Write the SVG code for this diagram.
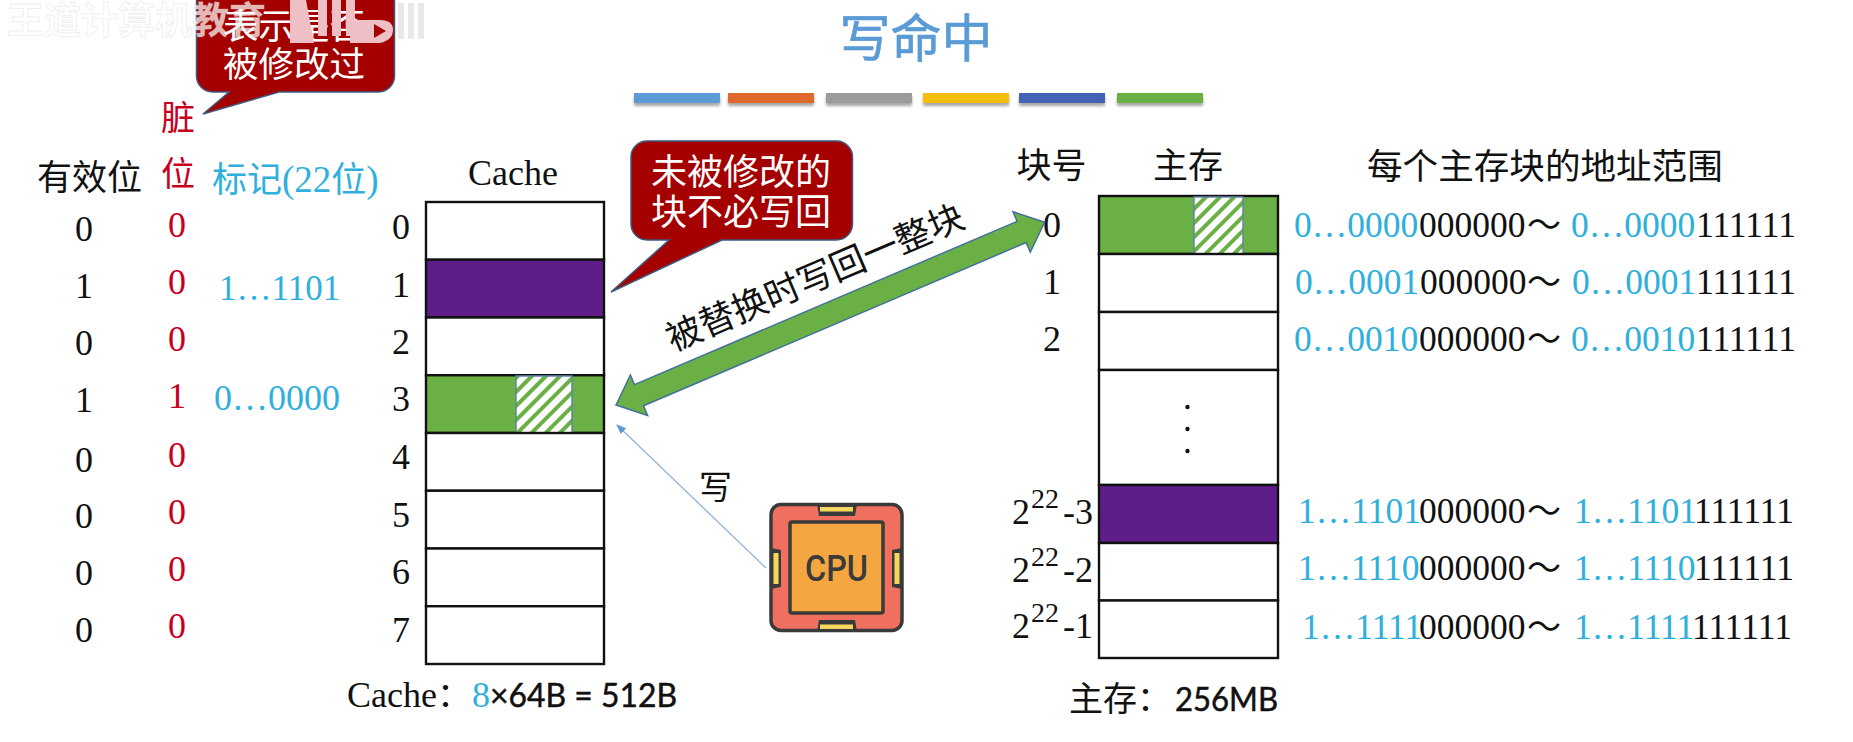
<svg xmlns="http://www.w3.org/2000/svg" width="1853" height="742" viewBox="0 0 1853 742">
<style>
text{font-family:"Liberation Serif","Noto Sans CJK SC",serif;font-size:36px;fill:#111}
.cjk{font-family:"Noto Sans CJK SC",sans-serif;font-size:34px}
.wh{fill:#fff;font-size:35.500px;text-anchor:middle;font-family:"Noto Sans CJK SC",sans-serif}
.sans{font-family:Lato,"Liberation Sans",sans-serif;font-size:33px;stroke:#111;stroke-width:.5}
.c{text-anchor:middle}
.red{fill:#c8001e}
.blue{fill:#2fb0dc}
.rn{font-size:35.5px}
.cell{fill:#fff;stroke:#111;stroke-width:2.4}
.pur{fill:#5f1d8a}
.grn{fill:#6bb044}
.hatch{fill:url(#h);stroke:#5f86a8;stroke-width:1.5}
.call{fill:#a50000;stroke:#3d5a80;stroke-width:1.5}
.ln{fill:#3a3a3a}
.pin{fill:#f5d75e}
</style>
<defs>
<pattern id="h" width="10" height="10" patternUnits="userSpaceOnUse" patternTransform="rotate(45)">
<rect width="10" height="10" fill="#fff"/><rect width="4" height="10" fill="#6bb044"/>
</pattern>
<filter id="sh" x="-10%" y="-40%" width="120%" height="200%"><feDropShadow dx="0" dy="3" stdDeviation="1.5" flood-color="#000" flood-opacity=".35"/></filter>
<marker id="ta" markerWidth="10" markerHeight="10" refX="9" refY="4" orient="auto" markerUnits="userSpaceOnUse" viewBox="0 0 10 8"><path d="M0 0L10 4L0 8z" fill="#5b9bd5"/></marker>
</defs>
<rect width="1853" height="742" fill="#fff"/>

<g id="title"><text x="916" y="57" class="c" style="font-family:'Noto Sans CJK SC',sans-serif;font-size:51px;fill:#5b9bd5;stroke:#5b9bd5;stroke-width:.7">写命中</text></g>
<g id="divider" filter="url(#sh)">
<rect x="634" y="93" width="86" height="10" fill="#5b9bd5"/>
<rect x="728" y="93" width="86" height="10" fill="#e0692f"/>
<rect x="826" y="93" width="86" height="10" fill="#9b9b9b"/>
<rect x="923" y="93" width="86" height="10" fill="#f5be10"/>
<rect x="1019" y="93" width="86" height="10" fill="#4264b4"/>
<rect x="1117" y="93" width="86" height="10" fill="#6bb044"/>
</g>

<g id="valid-column">
<text x="37" y="190" class="cjk" style="font-size:35px">有效位</text>
<text x="84" y="241" class="c">0</text><text x="84" y="298" class="c">1</text><text x="84" y="355" class="c">0</text><text x="84" y="412" class="c">1</text><text x="84" y="472" class="c">0</text><text x="84" y="528" class="c">0</text><text x="84" y="585" class="c">0</text><text x="84" y="642" class="c">0</text>
</g>
<g id="dirty-column">
<text x="178" y="130" class="cjk c red">脏</text><text x="178" y="186" class="cjk c red">位</text>
<g class="red"><text x="177" y="237" class="c red">0</text><text x="177" y="294" class="c red">0</text><text x="177" y="351" class="c red">0</text><text x="177" y="408" class="c red">1</text><text x="177" y="467" class="c red">0</text><text x="177" y="524" class="c red">0</text><text x="177" y="581" class="c red">0</text><text x="177" y="638" class="c red">0</text></g>
</g>
<g id="tag-column">
<text x="212" y="192" class="blue"><tspan class="cjk blue" style="font-size:35px">标记</tspan><tspan style="font-size:37px">(22</tspan><tspan class="cjk blue" style="font-size:35px">位</tspan><tspan style="font-size:37px">)</tspan></text>
<text x="219" y="300" class="blue" style="font-size:35px">1…1101</text>
<text x="214" y="410" class="blue" style="font-size:36px">0…0000</text>
</g>

<g id="cache">
<text x="513" y="185" class="c">Cache</text>
<rect class="cell" x="426" y="202" width="178" height="57.75"/>
<rect class="cell pur" x="426" y="259.75" width="178" height="57.75"/>
<rect class="cell" x="426" y="317.5" width="178" height="57.75"/>
<rect class="cell grn" x="426" y="375.25" width="178" height="57.75"/>
<rect class="hatch" x="516" y="376" width="56" height="57"/>
<rect class="cell" x="426" y="433" width="178" height="57.75"/>
<rect class="cell" x="426" y="490.75" width="178" height="57.75"/>
<rect class="cell" x="426" y="548.5" width="178" height="57.75"/>
<rect class="cell" x="426" y="606.25" width="178" height="57.75"/>
<text x="401" y="239" class="c">0</text><text x="401" y="297" class="c">1</text><text x="401" y="354" class="c">2</text><text x="401" y="411" class="c">3</text><text x="401" y="469" class="c">4</text><text x="401" y="527" class="c">5</text><text x="401" y="584" class="c">6</text><text x="401" y="642" class="c">7</text>
<text x="347" y="707">Cache<tspan class="cjk">：</tspan></text>
<text x="472" y="707" class="blue">8</text>
<text x="490" y="707" class="sans" textLength="187" lengthAdjust="spacingAndGlyphs">×64B = 512B</text>
</g>

<g id="memory">
<text x="1016.5" y="178" class="cjk" style="font-size:35px">块号</text>
<text x="1153" y="178" class="cjk" style="font-size:35px">主存</text>
<text x="1367" y="179" class="cjk" style="font-size:35.6px">每个主存块的地址范围</text>
<rect class="cell grn" x="1099" y="196" width="179" height="58"/>
<rect class="hatch" x="1194" y="197" width="49" height="57"/>
<rect class="cell" x="1099" y="254" width="179" height="58"/>
<rect class="cell" x="1099" y="312" width="179" height="58"/>
<rect class="cell" x="1099" y="370" width="179" height="115"/>
<rect class="cell pur" x="1099" y="485" width="179" height="58"/>
<rect class="cell" x="1099" y="543" width="179" height="57.5"/>
<rect class="cell" x="1099" y="600.5" width="179" height="57.5"/>
<circle cx="1187.500" cy="407" r="2.2" fill="#111"/><circle cx="1187.500" cy="429" r="2.2" fill="#111"/><circle cx="1187.500" cy="451" r="2.2" fill="#111"/>
<text x="1052" y="237" class="c">0</text><text x="1052" y="294" class="c">1</text><text x="1052" y="351" class="c">2</text>
<text y="524"><tspan x="1012">2</tspan><tspan x="1031" y="508" style="font-size:28px">22</tspan><tspan x="1063" y="524">-3</tspan></text>
<text y="582"><tspan x="1012">2</tspan><tspan x="1031" y="566" style="font-size:28px">22</tspan><tspan x="1063" y="582">-2</tspan></text>
<text y="638"><tspan x="1012">2</tspan><tspan x="1031" y="622" style="font-size:28px">22</tspan><tspan x="1063" y="638">-1</tspan></text>
<text x="1069" y="711" class="cjk">主存：</text>
<text x="1175" y="711" class="sans" textLength="103" lengthAdjust="spacingAndGlyphs">256MB</text>
</g>

<g id="address-ranges" class="rn">
<text y="236.5" class="rn"><tspan x="1294" class="blue rn">0…0000</tspan><tspan x="1419">000000</tspan><tspan x="1527" class="cjk">～</tspan><tspan x="1571" class="blue">0…0000</tspan><tspan x="1696">111111</tspan></text>
<text y="293.5" class="rn"><tspan x="1295" class="blue">0…0001</tspan><tspan x="1420">000000</tspan><tspan x="1527" class="cjk">～</tspan><tspan x="1572" class="blue">0…0001</tspan><tspan x="1696">111111</tspan></text>
<text y="350.5" class="rn"><tspan x="1294" class="blue">0…0010</tspan><tspan x="1419">000000</tspan><tspan x="1527" class="cjk">～</tspan><tspan x="1571" class="blue">0…0010</tspan><tspan x="1696">111111</tspan></text>
<text y="523" class="rn"><tspan x="1298" class="blue">1…1101</tspan><tspan x="1419">000000</tspan><tspan x="1527" class="cjk">～</tspan><tspan x="1574" class="blue">1…1101</tspan><tspan x="1694">111111</tspan></text>
<text y="580" class="rn"><tspan x="1298" class="blue">1…1110</tspan><tspan x="1419">000000</tspan><tspan x="1527" class="cjk">～</tspan><tspan x="1574" class="blue">1…1110</tspan><tspan x="1694">111111</tspan></text>
<text y="639" class="rn"><tspan x="1302" class="blue">1…1111</tspan><tspan x="1419">000000</tspan><tspan x="1527" class="cjk">～</tspan><tspan x="1574" class="blue">1…1111</tspan><tspan x="1692">111111</tspan></text>
</g>

<g id="connectors">
<polygon transform="translate(616 405) rotate(-23.1)" points="0,0 25,-22 25,-11.5 441,-11.5 441,-22 466,0 441,22 441,11.5 25,11.5 25,22" fill="#6bb044" stroke="#41719c" stroke-width="1.5"/>
<line x1="766" y1="568" x2="617" y2="425" stroke="#8fb4d6" stroke-width="1.3" marker-end="url(#ta)"/>
</g>
<text x="820" y="289" class="cjk c" style="font-size:35.5px" transform="rotate(-23.1 820 289)">被替换时写回一整块</text>
<text x="699" y="499" class="cjk" style="font-size:33px">写</text>

<g id="cpu">
<rect x="771" y="504.5" width="131" height="126" rx="10" fill="#f0705f" stroke="#3a3a3a" stroke-width="3.5"/>
<rect x="790" y="522" width="93" height="91" rx="2" fill="#f4a640" stroke="#3a3a3a" stroke-width="3.5"/>
<path class="ln" d="M817 504h40l-2 12h-36zM817 632h40l-2-12h-36zM771 548l10 2v37l-10 2zM902 548l-10 2v37l10 2z"/>
<rect class="pin" x="820" y="507" width="33" height="4.5"/><rect class="pin" x="820" y="624.5" width="33" height="4.5"/>
<rect class="pin" x="773.5" y="553" width="5" height="31"/><rect class="pin" x="894.5" y="553" width="5" height="31"/>
<text x="805" y="581" style="font-family:Roboto,sans-serif;font-weight:500;font-size:36px;fill:#3a3a3a" textLength="63" lengthAdjust="spacingAndGlyphs">CPU</text>
</g>

<g id="callout-dirty">
<path class="call" d="M196.5 -10H394.5V76a16 16 0 0 1-16 16H279L203 114L229 92H212.500a16 16 0 0 1-16-16z"/>
<text x="294" y="38.500" class="wh">表示是否</text>
<text x="294" y="76.500" class="wh">被修改过</text>
</g>
<g id="callout-clean">
<path class="call" d="M647 141H836.500a16 16 0 0 1 16 16V224a16 16 0 0 1-16 16H722L611 292L669 240H647a16 16 0 0 1-16-16V157a16 16 0 0 1 16-16z"/>
<text x="741" y="184.500" class="wh" style="font-size:36px">未被修改的</text>
<text x="741" y="224.500" class="wh" style="font-size:36px">块不必写回</text>
</g>

<g id="watermark">
<text x="7" y="34" class="cjk" style="font-size:37px;font-weight:700;fill:#fff;fill-opacity:.72;stroke:#c8c8c8;stroke-opacity:.3;stroke-width:1">王道计算机教育</text>
<path d="M290 0h16l8 43h-24zM318 0h9v36h-9zM332 0h9v36h-9zM346 0h9v36h-9z" fill="#eebfc4"/>
<path d="M350 20h30q13 0 13 10t-13 13h-30z" fill="#eebfc4"/>
<path d="M374 24l12 7l-12 7z" fill="#a50000"/>
<path d="M398 3h6v36h-6zM408 3h6v36h-6zM418 3h6v36h-6z" fill="#e8e8e8"/>
</g>
</svg>
